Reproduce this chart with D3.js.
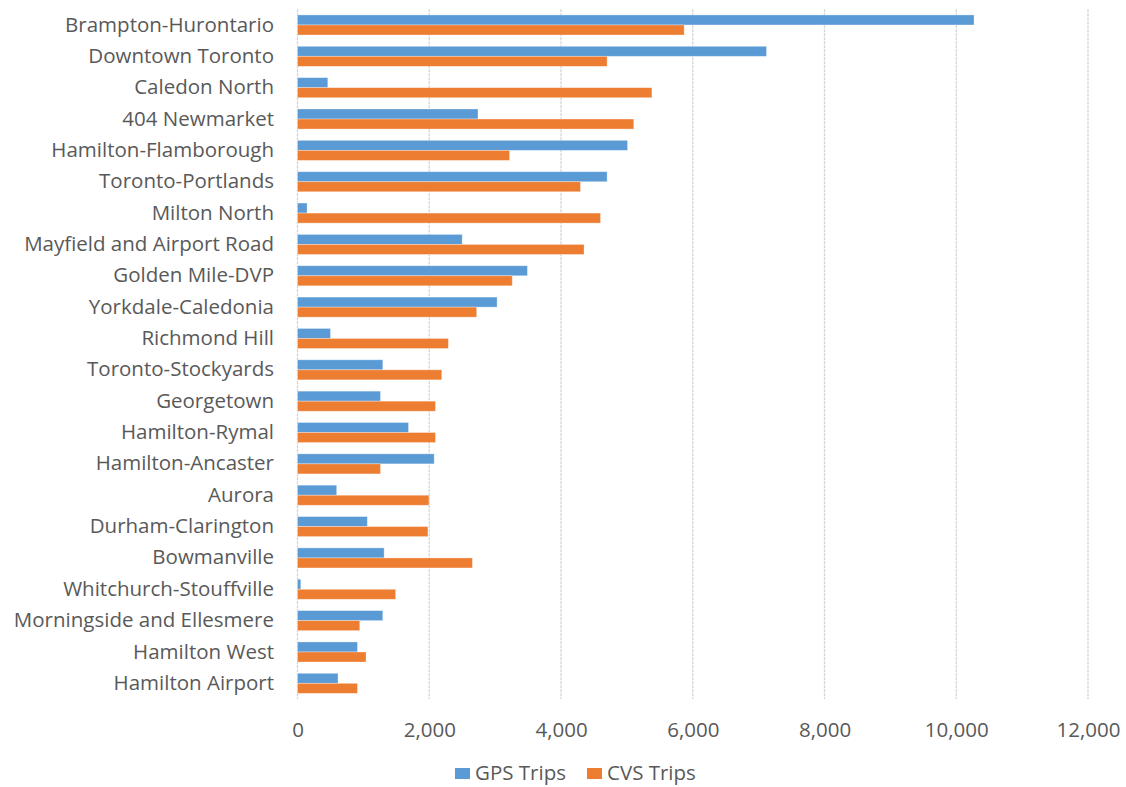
<!DOCTYPE html>
<html><head><meta charset="utf-8">
<script src="https://cdn.jsdelivr.net/npm/d3@7"></script>
<style>body{margin:0;background:#fff}svg{display:block}</style>
</head><body>
<svg id="c" width="1126" height="787"></svg>
<script>
const categories = ["Brampton-Hurontario","Downtown Toronto","Caledon North","404 Newmarket","Hamilton-Flamborough","Toronto-Portlands","Milton North","Mayfield and Airport Road","Golden Mile-DVP","Yorkdale-Caledonia","Richmond Hill","Toronto-Stockyards","Georgetown","Hamilton-Rymal","Hamilton-Ancaster","Aurora","Durham-Clarington","Bowmanville","Whitchurch-Stouffville","Morningside and Ellesmere","Hamilton West","Hamilton Airport"];
const gpsTrips = [10270,7120,460,2740,5010,4700,145,2500,3490,3030,500,1295,1260,1685,2075,595,1060,1315,50,1295,910,615];
const cvsTrips = [5870,4700,5380,5105,3220,4295,4600,4350,3260,2720,2290,2190,2095,2095,1260,1995,1980,2655,1490,945,1040,910];
const seriesNames = ["GPS Trips","CVS Trips"];
const xTicks = [0,2000,4000,6000,8000,10000,12000];

const colors = ["#5B9BD5","#ED7D31"];
const svg = d3.select("#c");
const pL = 297.5, pR = 1088, pT = 9.3, pB = 699;
const x = d3.scaleLinear().domain([0,12000]).range([pL,pR]);
const y = d3.scaleBand().domain(categories).range([pT,pB]).paddingInner(0.36).paddingOuter(0.18);
const inner = d3.scaleBand().domain(seriesNames).range([0,y.bandwidth()]);
const font = "'Open Sans', sans-serif";
const fs = "20.5px";

// gridlines
svg.append("g").selectAll("line").data(xTicks).join("line")
  .attr("x1",d=>x(d)).attr("x2",d=>x(d)).attr("y1",pT).attr("y2",pB)
  .attr("stroke","#d4d4d4").attr("stroke-width",1.3).attr("stroke-dasharray","3,1");

const data = categories.map((c,i)=>({c, vals:[gpsTrips[i],cvsTrips[i]]}));
const g = svg.append("g").selectAll("g").data(data).join("g")
  .attr("transform",d=>`translate(0,${y(d.c)})`);
g.selectAll("rect").data(d=>d.vals.map((v,k)=>({v,k}))).join("rect")
  .attr("x",x(0)).attr("y",d=>inner(seriesNames[d.k]))
  .attr("width",d=>x(d.v)-x(0)).attr("height",inner.bandwidth())
  .attr("fill",d=>colors[d.k]).attr("stroke","#fff").attr("stroke-opacity",0.4).attr("stroke-width",0.8);

// x axis
const xAxis = d3.axisBottom(x).tickValues(xTicks).tickFormat(d3.format(",")).tickSize(0).tickPadding(0);
const xa = svg.append("g").attr("transform",`translate(0,${pB})`).call(xAxis);
xa.select(".domain").remove();
xa.selectAll("text").attr("y",30.5).attr("dy","0.35em").attr("fill","#595959")
  .style("font-family",font).style("font-size",fs);

// y axis labels
const yAxis = d3.axisLeft(y).tickSize(0).tickPadding(0);
const ya = svg.append("g").attr("transform",`translate(274,0)`).call(yAxis);
ya.select(".domain").remove();
ya.selectAll("text").attr("fill","#595959").style("font-family",font).style("font-size",fs);

// legend
const leg = svg.append("g");
const legX = [455,587];
seriesNames.forEach((s,i)=>{
  leg.append("rect").attr("x",legX[i]).attr("y",768).attr("width",15).attr("height",11).attr("fill",colors[i]);
  leg.append("text").attr("x",legX[i]+20).attr("y",780).text(s)
    .attr("fill","#595959").style("font-family",font).style("font-size",fs);
});
</script>
</body></html>
